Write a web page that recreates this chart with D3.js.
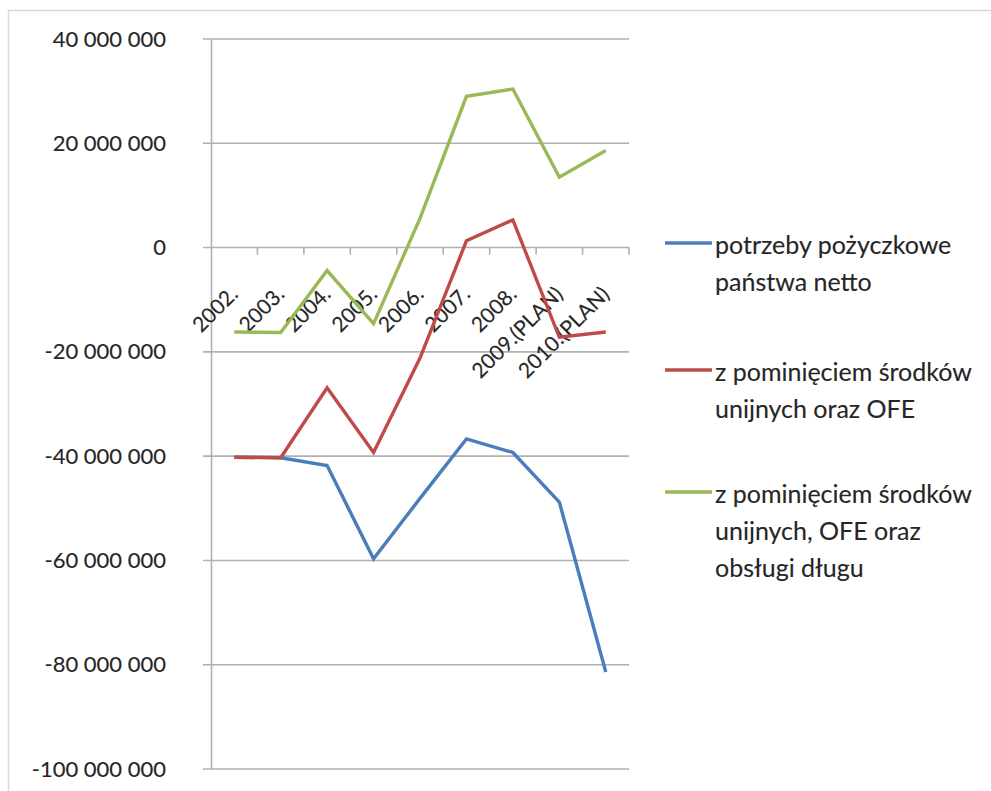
<!DOCTYPE html>
<html>
<head>
<meta charset="utf-8">
<script src="https://cdn.jsdelivr.net/npm/d3@7"></script>
<style>
  body { margin: 0; background: #fff; }
  text { font-family: Lato, "Open Sans", sans-serif; fill: #262626; stroke: #262626; stroke-width: 0.12px; }
</style>
</head>
<body>
<div id="chart"></div>
<script>
// data (values in PLN thousands)
const years = ["2002.", "2003.", "2004.", "2005.", "2006.", "2007.", "2008.", "2009.(PLAN)", "2010.(PLAN)"];
const netto = [-40200000, -40300000, -41800000, -59700000, -48100000, -36700000, -39300000, -48800000, -81400000];
const bezUE = [-40200000, -40300000, -26900000, -39300000, -21200000, 1300000, 5300000, -17200000, -16200000];
const bezUEDlug = [-16200000, -16300000, -4400000, -14600000, 5600000, 29000000, 30400000, 13500000, 18600000];
const yTicks = [40000000, 20000000, 0, -20000000, -40000000, -60000000, -80000000, -100000000];
const seriesNames = [
    ["potrzeby pożyczkowe", "państwa netto"],
    ["z pominięciem środków", "unijnych oraz OFE"],
    ["z pominięciem środków", "unijnych, OFE oraz", "obsługi długu"]
];

const W = 991, H = 791;
const plotLeft = 211, plotRight = 629, plotTop = 39, plotBottom = 769;

const svg = d3.select("#chart")
    .append("svg")
    .attr("width", W)
    .attr("height", H);

// outer frame of the pasted chart
svg.append("rect")
    .attr("x", 8.5).attr("y", 10.5)
    .attr("width", W + 20).attr("height", H + 20)
    .attr("fill", "none")
    .attr("stroke", "#d9d9d9")
    .attr("stroke-width", 1.5);

const xScale = d3.scaleBand()
    .domain(years)
    .range([plotLeft, plotRight])
    .padding(0);

const yScale = d3.scaleLinear()
    .domain([-100000000, 40000000])
    .range([plotBottom, plotTop]);

const color = d3.scaleOrdinal()
    .domain([0, 1, 2])
    .range(["#4a7ebb", "#be4b48", "#98b954"]);

const fmt = d3.formatLocale({decimal: ",", thousands: " ", grouping: [3], currency: ["", ""], minus: "-"}).format(",d");

// horizontal gridlines
svg.append("g")
    .selectAll("line")
    .data(yTicks)
    .enter()
    .append("line")
    .attr("x1", plotLeft - 8)
    .attr("x2", plotRight)
    .attr("y1", d => yScale(d))
    .attr("y2", d => yScale(d))
    .attr("stroke", "#b0b0b0")
    .attr("stroke-width", 1.6);

// y axis
const yAxis = d3.axisLeft(yScale)
    .tickValues(yTicks)
    .tickSize(0)
    .tickPadding(plotLeft - 166)
    .tickFormat(fmt);

svg.append("g")
    .attr("class", "y-axis")
    .attr("transform", `translate(${plotLeft},0)`)
    .call(yAxis)
    .call(g => g.select(".domain").attr("stroke", "#b0b0b0").attr("stroke-width", 1.6))
    .selectAll("text")
    .style("font-size", "22px")
    .attr("fill", "#262626");

// x axis at zero, ticks between categories
const bw = xScale.bandwidth();
const xAxis = d3.axisBottom(xScale)
    .tickSize(7)
    .tickSizeOuter(0);

const xg = svg.append("g")
    .attr("class", "x-axis")
    .attr("transform", `translate(0, ${yScale(0)})`)
    .call(xAxis);

xg.select(".domain").remove();
xg.selectAll(".tick line")
    .attr("x1", bw / 2).attr("x2", bw / 2)
    .attr("stroke", "#b0b0b0")
    .attr("stroke-width", 1.6);

xg.selectAll(".tick text")
    .style("font-size", "21px")
    .style("text-anchor", "end")
    .attr("fill", "#1a1a1a")
    .attr("dy", null)
    .attr("y", 0)
    .attr("transform", "translate(5, 48) rotate(-45)");

// series lines
const line = d3.line()
    .x((d, i) => xScale(years[i]) + bw / 2)
    .y(d => yScale(d));

const allSeries = [netto, bezUE, bezUEDlug];

svg.append("g")
    .selectAll("path")
    .data(allSeries)
    .enter()
    .append("path")
    .attr("d", d => line(d))
    .attr("fill", "none")
    .attr("stroke", (d, i) => color(i))
    .attr("stroke-width", 3.4)
    .attr("stroke-linejoin", "miter");

// legend
const legendY = [243, 370, 492];
const legend = svg.append("g")
    .selectAll("g")
    .data(seriesNames)
    .enter()
    .append("g")
    .attr("transform", (d, i) => `translate(665, ${legendY[i]})`);

legend.append("line")
    .attr("x1", 0).attr("x2", 47)
    .attr("stroke", (d, i) => color(i))
    .attr("stroke-width", 3.4);

legend.each(function(d) {
    d3.select(this)
        .selectAll("text")
        .data(d)
        .enter()
        .append("text")
        .attr("x", 50)
        .attr("y", (t, j) => 2 + j * 37)
        .attr("dy", "0.35em")
        .style("font-size", "25px")
        .text(t => t);
});
</script>
</body>
</html>
